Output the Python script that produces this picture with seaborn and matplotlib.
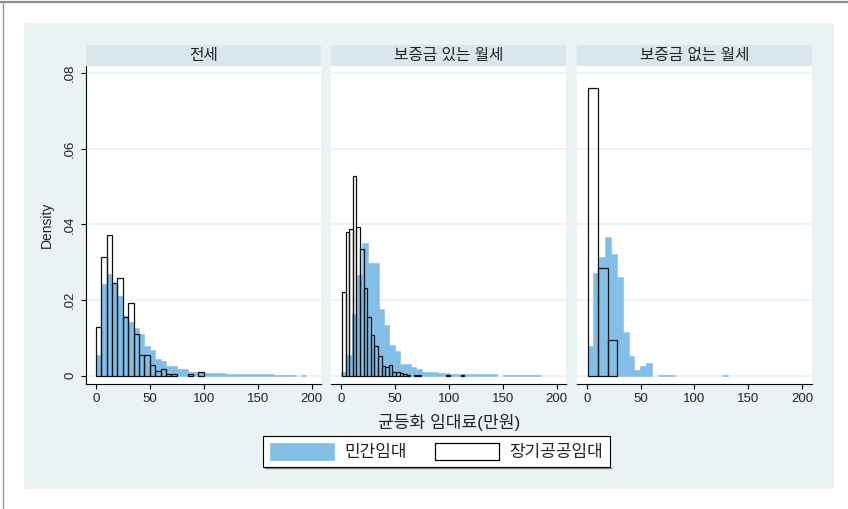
import numpy as np
import pandas as pd
import matplotlib
matplotlib.use("Agg")
import matplotlib.pyplot as plt
from matplotlib.patches import Rectangle, Patch
from matplotlib.lines import Line2D
import seaborn as sns

# ---- labels ----
panel_titles = ["전세", "보증금 있는 월세", "보증금 없는 월세"]
series_labels = ["민간임대", "장기공공임대"]
x_label = "균등화 임대료(만원)"
y_label = "Density"
x_ticks = [0, 50, 100, 150, 200]
y_ticks = [0, 0.02, 0.04, 0.06, 0.08]
y_tick_labels = ["0", ".02", ".04", ".06", ".08"]

# ---- histogram bins (first edge, bin width) and densities ----
# 전세
jeonse_private_bins = (0.0, 5.0)
jeonse_private = [0.0056, 0.0242, 0.0269, 0.0246, 0.0211, 0.0158, 0.0143, 0.0125,
                  0.0110, 0.0079, 0.0068, 0.0044, 0.0040, 0.0026, 0.0026, 0.0017,
                  0.0017, 0.0011, 0.0011, 0.0010, 0.0008, 0.0008, 0.0006, 0.0006,
                  0.0005, 0.0005, 0.0004, 0.0004, 0.0005, 0.0004, 0.0004, 0.0004,
                  0.0004, 0.0003, 0.0003, 0.0003, 0.0003, 0.0, 0.0003]
jeonse_public_bins = (0.0, 5.0)
jeonse_public = [0.0128, 0.0315, 0.0373, 0.0246, 0.0259, 0.0156, 0.0193, 0.0109,
                 0.0056, 0.0056, 0.0028, 0.0013, 0.0018, 0.0005, 0.0005, 0.0,
                 0.0, 0.0004, 0.0, 0.0009]

# 보증금 있는 월세
deposit_private_bins = (0.0, 5.0)
deposit_private = [0.0009, 0.0055, 0.0164, 0.0265, 0.0351, 0.0298, 0.0298, 0.0177,
                   0.0135, 0.0081, 0.0064, 0.0031, 0.0031, 0.0024, 0.0017, 0.0011,
                   0.0011, 0.0009, 0.0007, 0.0006, 0.0005, 0.0004, 0.0004, 0.0004,
                   0.0004, 0.0004, 0.0004, 0.0004, 0.0004, 0.0, 0.0003, 0.0003,
                   0.0003, 0.0003, 0.0003, 0.0003, 0.0003]
deposit_public_bins = (1.25, 3.33)
deposit_public = [0.0221, 0.0381, 0.0387, 0.0528, 0.0394, 0.0336, 0.0233, 0.0155,
                  0.0108, 0.0078, 0.0052, 0.0025, 0.0024, 0.0028, 0.0011, 0.0009,
                  0.0007, 0.0004, 0.0003, 0.0, 0.0003, 0.0003, 0.0, 0.0, 0.0, 0.0,
                  0.0, 0.0, 0.0, 0.0003, 0.0, 0.0, 0.0, 0.0003]

# 보증금 없는 월세
nodeposit_private_bins = (0.8, 5.43)
nodeposit_private = [0.0078, 0.0272, 0.0314, 0.0366, 0.0322, 0.0260, 0.0115, 0.0052,
                     0.0016, 0.0025, 0.0033, 0.0, 0.0003, 0.0003, 0.0003, 0.0, 0.0,
                     0.0, 0.0, 0.0, 0.0, 0.0, 0.0, 0.0003]
nodeposit_public_bins = (1.55, 8.95)
nodeposit_public = [0.0760, 0.0285, 0.0095]

panels = [
    (jeonse_private_bins, jeonse_private, jeonse_public_bins, jeonse_public),
    (deposit_private_bins, deposit_private, deposit_public_bins, deposit_public),
    (nodeposit_private_bins, nodeposit_private, nodeposit_public_bins, nodeposit_public),
]

# ---- style ----
W, H, DPI = 848, 509, 100
BLUE = "#82BFE8"
BG = "#EAF2F3"
STRIP = "#D9E6EB"
GRID = "#EAF2F3"
TXT = "#222222"

sns.set_style("ticks")
plt.rcParams["font.family"] = ["Liberation Sans", "Noto Sans CJK KR", "DejaVu Sans"]
plt.rcParams["axes.unicode_minus"] = False

fig = plt.figure(figsize=(W / DPI, H / DPI), dpi=DPI, facecolor="white")


def px_rect(left, top, right, bottom):
    return [left / W, 1 - bottom / H, (right - left) / W, (bottom - top) / H]


# graph region background and outer frame lines
fig.add_artist(Rectangle((24 / W, 1 - 488.5 / H), (833.5 - 24) / W, (488.5 - 23) / H,
                         transform=fig.transFigure, facecolor=BG, edgecolor="none",
                         zorder=-10))
fig.add_artist(Line2D([0, 1], [1 - 2 / H] * 2, transform=fig.transFigure,
                      color="#8C8C8C", lw=1.6))
fig.add_artist(Line2D([3 / W] * 2, [0, 1 - 2 / H], transform=fig.transFigure,
                      color="#9A9A9A", lw=1.0))


def draw_hist(ax, bins, heights, **kws):
    start, width = bins
    heights = np.asarray(heights, dtype=float)
    edges = start + width * np.arange(len(heights) + 1)
    frame = pd.DataFrame({"value": edges[:-1] + width / 2, "density": heights})
    before = len(ax.patches)
    sns.histplot(data=frame, x="value", weights="density", bins=edges.tolist(),
                 stat="count", ax=ax, alpha=1, **kws)
    # drop empty bins so they leave no outline on the baseline
    for p in list(ax.patches[before:]):
        if p.get_height() <= 0:
            p.remove()


panel_px = [(86, 321), (331, 566), (577, 811.5)]
PLOT_TOP, PLOT_BOTTOM = 66, 384
STRIP_H = 21

for i, ((pb, pv, qb, qv), (l, r)) in enumerate(zip(panels, panel_px)):
    ax = fig.add_axes(px_rect(l, PLOT_TOP, r, PLOT_BOTTOM))
    ax.set_facecolor("white")
    ax.set_axisbelow(True)

    draw_hist(ax, pb, pv, color=BLUE, edgecolor=BLUE, linewidth=0.4, zorder=2)
    draw_hist(ax, qb, qv, color="#111111", fill=False, linewidth=0.9, zorder=3)

    ax.set_xlim(-9.0, 208.6)
    ax.set_ylim(-0.0022, 0.0819)
    ax.set_xticks(x_ticks)
    ax.set_xticklabels([str(t) for t in x_ticks])
    ax.set_yticks(y_ticks)
    ax.set_yticklabels(y_tick_labels)
    ax.grid(axis="y", color=GRID, linewidth=1.3)
    ax.grid(axis="x", visible=False)
    ax.set_xlabel("")
    ax.set_ylabel("")

    for side in ["top", "right"]:
        ax.spines[side].set_visible(False)
    ax.spines["bottom"].set_color("black")
    ax.spines["bottom"].set_linewidth(0.8)
    ax.tick_params(axis="x", direction="out", length=3.6, width=0.8, color="black",
                   labelsize=9.5, labelcolor=TXT, pad=3)
    if i == 0:
        ax.spines["left"].set_color("black")
        ax.spines["left"].set_linewidth(0.8)
        ax.tick_params(axis="y", direction="out", length=3.6, width=0.8, color="black",
                       labelsize=9.5, labelcolor=TXT, pad=3.5, labelrotation=90)
        for lab in ax.get_yticklabels():
            lab.set_verticalalignment("center")
    else:
        ax.spines["left"].set_visible(False)
        ax.tick_params(axis="y", left=False, labelleft=False)

    # panel strip
    ax.add_patch(Rectangle((0, 1.0), 1, STRIP_H / (PLOT_BOTTOM - PLOT_TOP),
                           transform=ax.transAxes, facecolor=STRIP, edgecolor="none",
                           clip_on=False, zorder=5))
    ax.text(0.5, 1 + (STRIP_H / 2) / (PLOT_BOTTOM - PLOT_TOP), panel_titles[i],
            transform=ax.transAxes, ha="center", va="center", fontsize=11.3,
            color=TXT, zorder=6)

# axis titles
fig.text(47 / W, 1 - 225 / H, y_label, rotation=90, ha="center", va="center",
         fontsize=10, color=TXT)
fig.text(448.75 / W, 1 - 422.5 / H, x_label, ha="center", va="center",
         fontsize=12.3, color=TXT)

# legend
handles = [Patch(facecolor=BLUE, edgecolor=BLUE, linewidth=0.5),
           Patch(facecolor="white", edgecolor="black", linewidth=0.9)]
leg = fig.legend(handles, series_labels, loc="center",
                 bbox_to_anchor=(436.5 / W, 1 - 451.7 / H), ncol=2,
                 frameon=True, fancybox=False, shadow=False, fontsize=12.2,
                 handlelength=3.75, handleheight=1.1, handletextpad=0.6,
                 columnspacing=1.7, borderpad=0.42, borderaxespad=0,
                 labelcolor=TXT)
leg.get_frame().set_edgecolor("black")
leg.get_frame().set_linewidth(0.8)
leg.get_frame().set_facecolor("white")
leg.get_frame().set_alpha(1)
leg.set_zorder(2)

# thin grey drop line just under the legend frame
fig.canvas.draw()
bb = leg.get_window_extent()
fig.add_artist(Line2D([(bb.x0 + 1.5) / W, (bb.x1 + 1) / W], [(bb.y0 - 1.2) / H] * 2,
                      transform=fig.transFigure, color="#8A8A8A", lw=1.0, zorder=1))

fig.savefig("out.png", dpi=DPI, facecolor="white")
